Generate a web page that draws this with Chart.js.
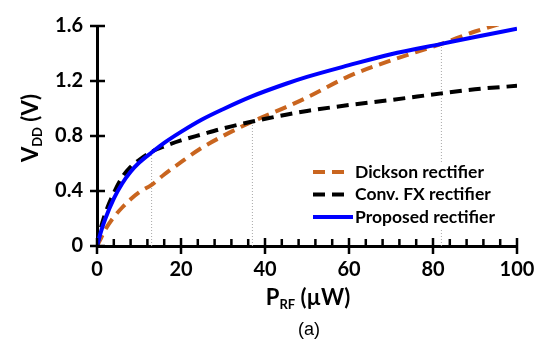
<!DOCTYPE html>
<html>
<head>
<meta charset="utf-8">
<script src="https://cdn.jsdelivr.net/npm/chart.js@4.4.1/dist/chart.umd.min.js"></script>
<style>
  html, body { margin: 0; padding: 0; background: #fff; }
  #wrap { width: 551px; height: 343px; }
</style>
</head>
<body>
<div id="wrap"><canvas id="vddChart" width="551" height="343"></canvas></div>
<script>
// input power P_RF (uW) and output voltage V_DD (V)
const pRF = [0, 1, 2, 4, 6, 8, 10, 13, 16, 20, 25, 30, 37, 45, 50, 60, 70, 82, 90, 100];
const dickson = [0, 0.06, 0.12, 0.21, 0.28, 0.34, 0.39, 0.445, 0.52, 0.61, 0.715, 0.80, 0.905, 1.01, 1.08, 1.235, 1.35, 1.47, 1.56, 1.65];
const convFX = [0, 0.14, 0.24, 0.385, 0.5, 0.575, 0.625, 0.685, 0.725, 0.768, 0.812, 0.855, 0.905, 0.955, 0.982, 1.025, 1.062, 1.11, 1.14, 1.165];
const proposed = [0, 0.11, 0.2, 0.345, 0.455, 0.54, 0.605, 0.68, 0.75, 0.83, 0.92, 0.995, 1.09, 1.18, 1.23, 1.315, 1.395, 1.47, 1.52, 1.58];

const seriesLabels = ['Dickson rectifier', 'Conv. FX rectifier', 'Proposed rectifier'];

// crossing points marked with thin dotted drop lines
const markX = [13, 37, 82];
const markY = [0.68, 0.905, 1.47];

const xTicks = [0, 20, 40, 60, 80, 100];
const xMinorStep = 4;
const yTicks = [0, 0.4, 0.8, 1.2, 1.6];

const boldFont = 'Lato, "Open Sans", sans-serif';

function toPoints(ys) {
    return pRF.map((x, i) => ({ x: x, y: ys[i] }));
}

const markerSets = markX.map((mx, i) => ({
    label: '',
    data: [{ x: mx, y: 0 }, { x: mx, y: markY[i] }],
    borderColor: '#a8a8a8',
    borderWidth: 1,
    borderDash: [1, 2],
    pointRadius: 0,
    order: 10
}));

// ticks: major ticks cross the axis, minor x ticks point inward
const tickPlugin = {
    id: 'axisTicks',
    afterDraw(chart) {
        const { ctx, scales: { x, y } } = chart;
        const x0 = x.getPixelForValue(0);
        const y0 = y.getPixelForValue(0);
        ctx.save();
        ctx.strokeStyle = '#000';
        ctx.lineWidth = 2.5;
        ctx.beginPath();
        for (let v = 0; v <= 100; v += xMinorStep) {
            const px = x.getPixelForValue(v);
            if (xTicks.includes(v)) {
                ctx.moveTo(px, y0 - 8);
                ctx.lineTo(px, y0 + 8);
            } else {
                ctx.moveTo(px, y0 - 7);
                ctx.lineTo(px, y0);
            }
        }
        yTicks.forEach(v => {
            const py = y.getPixelForValue(v);
            ctx.moveTo(x0 - 7, py);
            ctx.lineTo(x0 + 8, py);
        });
        ctx.stroke();
        ctx.restore();
    }
};

// legend box in the lower right corner
const legendPlugin = {
    id: 'boxLegend',
    afterDatasetsDraw(chart) {
        const { ctx } = chart;
        ctx.save();
        ctx.fillStyle = '#fff';
        ctx.fillRect(308, 162, 215, 66);
        ctx.font = 'bold 17.5px ' + boldFont;
        ctx.textBaseline = 'middle';
        seriesLabels.forEach((txt, i) => {
            const ds = chart.data.datasets[i];
            const ly = 172 + i * 22.5;
            ctx.strokeStyle = ds.borderColor;
            ctx.lineWidth = 4;
            ctx.setLineDash(ds.borderDash || []);
            ctx.beginPath();
            ctx.moveTo(313, ly);
            ctx.lineTo(ds.borderDash ? 345 : 353, ly);
            ctx.stroke();
            ctx.setLineDash([]);
            ctx.fillStyle = '#000';
            ctx.textAlign = 'left';
            ctx.fillText(txt, 355, ly);
        });
        ctx.restore();
    }
};

// axis titles with subscripts
function drawSub(ctx, parts, cx, baseline) {
    let total = 0;
    parts.forEach(p => {
        ctx.font = 'bold ' + p.size + 'px ' + boldFont;
        p.w = ctx.measureText(p.text).width;
        total += p.w;
    });
    let cur = cx - total / 2;
    parts.forEach(p => {
        ctx.font = 'bold ' + p.size + 'px ' + boldFont;
        ctx.fillText(p.text, cur, baseline + (p.sub ? 4 : 0));
        cur += p.w;
    });
}

const titlePlugin = {
    id: 'axisTitles',
    afterDraw(chart) {
        const { ctx } = chart;
        ctx.save();
        ctx.fillStyle = '#000';
        ctx.textAlign = 'left';
        ctx.textBaseline = 'alphabetic';
        drawSub(ctx, [
            { text: 'P', size: 22 },
            { text: 'RF', size: 13, sub: true },
            { text: ' (µW)', size: 22 }
        ], 308, 305);

        ctx.translate(0, 128);
        ctx.rotate(-Math.PI / 2);
        drawSub(ctx, [
            { text: 'V', size: 22 },
            { text: 'DD', size: 13, sub: true },
            { text: ' (V)', size: 22 }
        ], 0, 38);
        ctx.restore();

        ctx.save();
        ctx.fillStyle = '#000';
        ctx.font = '18px "Liberation Sans", Arial, sans-serif';
        ctx.textAlign = 'center';
        ctx.fillText('(a)', 309, 335);
        ctx.restore();
    }
};

new Chart(document.getElementById('vddChart'), {
    type: 'line',
    data: {
        datasets: [
            {
                label: seriesLabels[0],
                data: toPoints(dickson),
                borderColor: '#C9651F',
                borderWidth: 4,
                borderDash: [12, 7],
                pointRadius: 0,
                cubicInterpolationMode: 'monotone',
                order: 3
            },
            {
                label: seriesLabels[1],
                data: toPoints(convFX),
                borderColor: '#000000',
                borderWidth: 4,
                borderDash: [12, 7],
                pointRadius: 0,
                cubicInterpolationMode: 'monotone',
                order: 2
            },
            {
                label: seriesLabels[2],
                data: toPoints(proposed),
                borderColor: '#0000FF',
                borderWidth: 4,
                pointRadius: 0,
                cubicInterpolationMode: 'monotone',
                order: 1
            },
            ...markerSets
        ]
    },
    options: {
        responsive: false,
        animation: false,
        events: [],
        layout: {
            padding: { top: 11, right: 34, left: 0, bottom: 0 }
        },
        plugins: {
            legend: { display: false },
            tooltip: { enabled: false }
        },
        scales: {
            x: {
                type: 'linear',
                min: 0,
                max: 100,
                afterFit: s => { s.height = 97; },
                afterBuildTicks: s => { s.ticks = xTicks.map(v => ({ value: v })); },
                ticks: {
                    color: '#000',
                    padding: 12,
                    maxRotation: 0,
                    font: { family: boldFont, size: 20, weight: 'bold' }
                },
                grid: { display: true, drawOnChartArea: false, drawTicks: false },
                border: { color: '#000', width: 3 }
            },
            y: {
                min: 0,
                max: 1.6,
                afterFit: s => { s.width = 97; },
                afterBuildTicks: s => { s.ticks = yTicks.map(v => ({ value: v })); },
                ticks: {
                    color: '#000',
                    padding: 14,
                    callback: v => v === 0 ? '0' : v.toFixed(1),
                    font: { family: boldFont, size: 20, weight: 'bold' }
                },
                grid: { display: true, drawOnChartArea: false, drawTicks: false },
                border: { color: '#000', width: 3 }
            }
        }
    },
    plugins: [tickPlugin, legendPlugin, titlePlugin]
});
</script>
</body>
</html>
